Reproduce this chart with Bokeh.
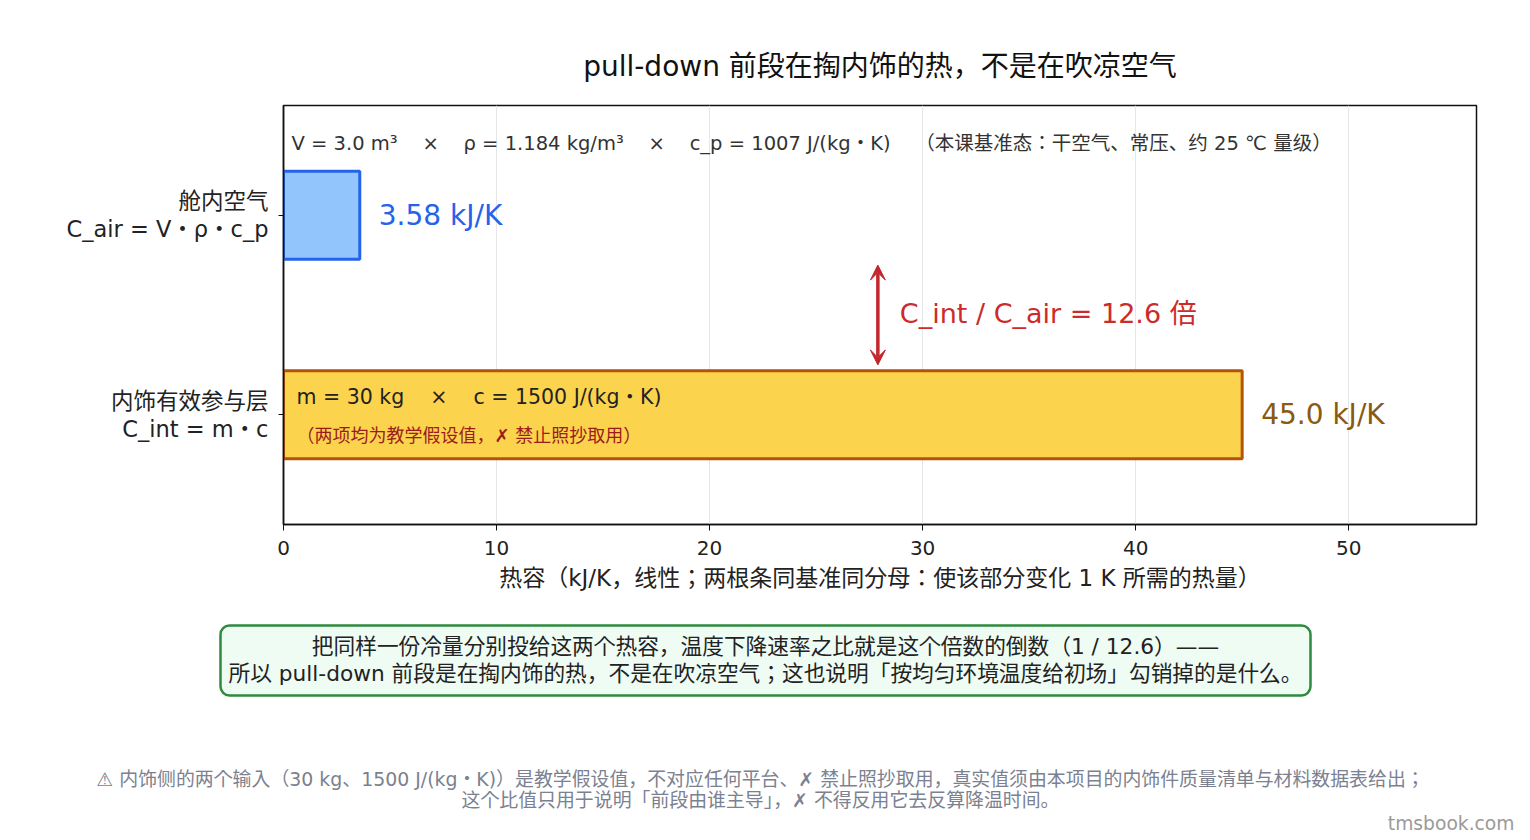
from bokeh.plotting import figure
from bokeh.models import Range1d, FixedTicker, Label, Arrow, VeeHead, ColumnDataSource, BoxAnnotation
from bokeh.layouts import column
from bokeh.embed import file_html
from bokeh.resources import INLINE
from bokeh.core.properties import value

FONT = "DejaVu Sans, Noto Sans CJK JP"

# ---- data ----
categories = ["内饰有效参与层", "舱内空气"]
cat_formulas = ["C_int = m・c", "C_air = V・ρ・c_p"]
capacities_kJK = [45.0, 3.58]
bar_fills = ["#fcd34d", "#93c5fd"]
bar_lines = ["#b45309", "#2563eb"]
value_colors = ["#8a5a12", "#2563eb"]
x_ticks = [0, 10, 20, 30, 40, 50]
air_params = ["V = 3.0 m³", "ρ = 1.184 kg/m³", "c_p = 1007 J/(kg・K)"]
int_params = ["m = 30 kg", "c = 1500 J/(kg・K)"]
ratio = capacities_kJK[0] / capacities_kJK[1]

RED = "#c1272d"
TXT = "#222222"
NB = "\u00a0"
SEP = NB * 4 + "×" + NB * 4

# ---- layout geometry (page pixels) ----
W, H = 1530, 840
H1 = 600
F_LEFT, F_RIGHT, F_TOP, F_BOTTOM = 283, 1476, 105, 524
X0, X1 = 0, 56
Y0, Y1 = -0.55, 1.55
YS = (F_BOTTOM - F_TOP) / (Y1 - Y0)


def py_y(py):
    return Y0 + (F_BOTTOM - py) / YS


ys = list(range(len(categories)))
src = ColumnDataSource(dict(
    y=ys, c=capacities_kJK, fill=bar_fills, line=bar_lines, vc=value_colors,
    label=[f"{v:.2f} kJ/K" if v < 10 else f"{v:.1f} kJ/K" for v in capacities_kJK],
))

p = figure(width=W, height=H1, x_range=Range1d(X0, X1), y_range=Range1d(Y0, Y1),
           output_backend="svg", toolbar_location=None,
           min_border_left=F_LEFT, min_border_right=W - F_RIGHT,
           min_border_top=F_TOP, min_border_bottom=H1 - F_BOTTOM)
p.frame_align = False

p.title.text = "pull-down 前段在掏内饰的热，不是在吹凉空气"
p.title.align = "center"
p.title.text_font = FONT
p.title.text_font_size = "28px"
p.title.text_font_style = "normal"
p.title.text_color = "#111111"
p.title.standoff = 46

p.hbar(y="y", left=0, right="c", height=0.44, fill_color="fill", line_color="line",
       line_width=3, source=src)
p.text(x="c", y="y", text="label", x_offset=19, text_baseline="middle", text_align="left",
       text_font=value(FONT), text_font_size="28px", text_color="vc", source=src)

# axes
p.xaxis.ticker = FixedTicker(ticks=x_ticks)
p.xaxis.axis_label = "热容（kJ/K，线性；两根条同基准同分母：使该部分变化 1 K 所需的热量）"
p.yaxis.ticker = FixedTicker(ticks=ys)
p.yaxis.major_label_overrides = {i: f"{categories[i]}\n{cat_formulas[i]}" for i in ys}
for ax in (p.xaxis, p.yaxis):
    ax.major_label_text_font = FONT
    ax.major_label_text_color = TXT
    ax.axis_label_text_font = FONT
    ax.axis_label_text_font_style = "normal"
    ax.axis_label_text_color = TXT
    ax.axis_line_color = "#111111"
    ax.axis_line_width = 1.5
    ax.major_tick_line_color = "#111111"
    ax.major_tick_in = 0
    ax.minor_tick_line_color = None
p.xaxis.major_tick_out = 6
p.xaxis.major_label_standoff = 10
p.xaxis.major_label_text_font_size = "20px"
p.xaxis.axis_label_text_font_size = "23px"
p.xaxis.axis_label_standoff = 7
p.yaxis.major_tick_out = 5
p.yaxis.major_label_standoff = 10
p.yaxis.major_label_text_font_size = "22.5px"
p.yaxis.major_label_text_line_height = 1.07

p.ygrid.visible = False
p.xgrid.grid_line_color = "#e6e6e6"
p.xgrid.grid_line_width = 1
p.outline_line_color = "#111111"
p.outline_line_width = 1.5
p.outline_line_alpha = 1

# annotations inside the plot
p.add_layout(Label(x=0, y=py_y(143), x_offset=8,
                   text=SEP.join(air_params) + NB * 4 + "（本课基准态：干空气、常压、约 25 ℃ 量级）",
                   text_baseline="middle", text_font=FONT, text_font_size="19.5px", text_color="#333333"))
p.add_layout(Label(x=0, y=py_y(396), x_offset=13, text=SEP.join(int_params),
                   text_baseline="middle", text_font=FONT, text_font_size="20.5px", text_color=TXT))
p.add_layout(Label(x=0, y=py_y(435), x_offset=13, text="（两项均为教学假设值，✗ 禁止照抄取用）",
                   text_baseline="middle", text_font=FONT, text_font_size="18px", text_color="#9b1c1c"))

ARROW_X = 27.9
p.add_layout(Arrow(start=VeeHead(size=15, fill_color=RED, line_color=RED, fill_alpha=1, line_alpha=1),
                   end=VeeHead(size=15, fill_color=RED, line_color=RED, fill_alpha=1, line_alpha=1),
                   x_start=ARROW_X, y_start=0.25, x_end=ARROW_X, y_end=0.75,
                   line_color=RED, line_width=3.5))
p.add_layout(Label(x=ARROW_X, y=py_y(313), x_offset=22, text=f"C_int / C_air = {ratio:.1f} 倍",
                   text_baseline="middle", text_font=FONT, text_font_size="27px", text_color="#cc2b2b"))

# ---- lower panel: note box and footer (pixel coordinates) ----
H2 = H - H1
p2 = figure(width=W, height=H2, x_range=Range1d(0, W), y_range=Range1d(0, H2),
            output_backend="svg", toolbar_location=None, min_border=0,
            min_border_left=0, min_border_right=0, min_border_top=0, min_border_bottom=0,
            x_axis_location=None, y_axis_location=None)
p2.frame_align = False
p2.outline_line_color = None
p2.grid.visible = False


def qy(py):
    return H - py


p2.add_layout(BoxAnnotation(left=220, right=1310, top=qy(625), bottom=qy(695),
                            fill_color="#eefcf4", fill_alpha=1, line_color="#2f8a3f",
                            line_alpha=1, line_width=2.5, border_radius=9))
note_lines = [
    "把同样一份冷量分别投给这两个热容，温度下降速率之比就是这个倍数的倒数（1 / 12.6）——",
    "所以 pull-down 前段是在掏内饰的热，不是在吹凉空气；这也说明「按均匀环境温度给初场」勾销掉的是什么。",
]
for py, t in zip([646, 673], note_lines):
    p2.add_layout(Label(x=765, y=qy(py), text=t, text_align="center", text_baseline="middle",
                        text_font=FONT, text_font_size="21.7px", text_color=TXT))
foot_lines = [
    "⚠ 内饰侧的两个输入（30 kg、1500 J/(kg・K)）是教学假设值，不对应任何平台、✗ 禁止照抄取用，真实值须由本项目的内饰件质量清单与材料数据表给出；",
    "这个比值只用于说明「前段由谁主导」，✗ 不得反用它去反算降温时间。",
]
for py, t in zip([778, 799], foot_lines):
    p2.add_layout(Label(x=760, y=qy(py), text=t, text_align="center", text_baseline="middle",
                        text_font=FONT, text_font_size="18.9px", text_color="#7b8190"))
p2.add_layout(Label(x=1514, y=qy(823), text="tmsbook.com", text_align="right",
                    text_baseline="middle", text_font=FONT, text_font_size="18.7px", text_color="#9a9a9a"))

layout = column(p, p2)
open("out.html", "w").write(file_html(layout, INLINE))
